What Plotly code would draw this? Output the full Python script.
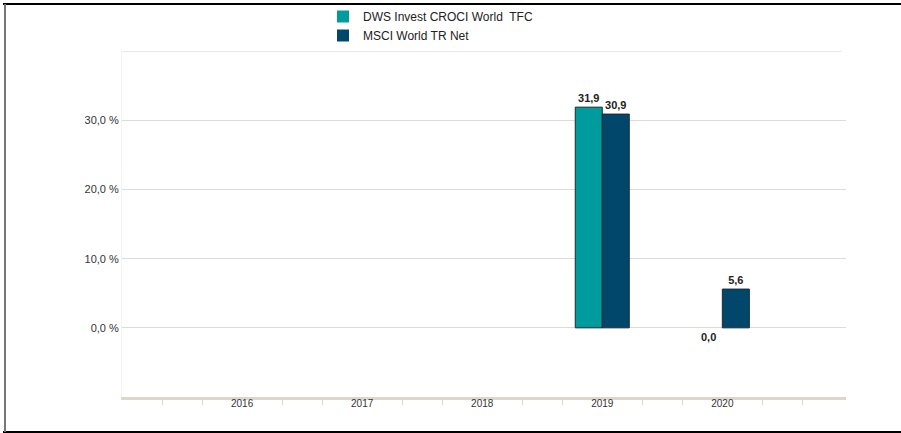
import plotly.graph_objects as go

years = [2016, 2017, 2018, 2019, 2020]
fund_name = "DWS Invest CROCI World  TFC"
bench_name = "MSCI World TR Net"
fund_vals = [None, None, None, 31.9, 0.0]
bench_vals = [None, None, None, 30.9, 5.6]
y_ticks = [0, 10, 20, 30, 40]
y_tick_text = ["0,0 %", "10,0 %", "20,0 %", "30,0 %", ""]

TEAL = "#009b9c"
NAVY = "#00476b"
EDGE = "#1c2a33"
GRID = "#dddbd5"
LABEL_FONT = dict(size=11, color="#222222", family="Liberation Sans", weight="bold")


def fmt(v):
    return "" if v is None else f"{v:.1f}".replace(".", ",")


def outside_text(vals):
    return [fmt(v) if (v is not None and v != 0) else "" for v in vals]


def edge_widths(vals):
    return [0 if (v is None or v == 0) else 1 for v in vals]


fig = go.Figure()
fig.add_trace(go.Bar(
    x=years, y=fund_vals, name=fund_name,
    marker=dict(color=TEAL, line=dict(color=EDGE, width=edge_widths(fund_vals))),
    text=outside_text(fund_vals), textposition="outside", cliponaxis=False,
    textfont=LABEL_FONT,
))
fig.add_trace(go.Bar(
    x=years, y=bench_vals, name=bench_name,
    marker=dict(color=NAVY, line=dict(color=EDGE, width=edge_widths(bench_vals))),
    text=outside_text(bench_vals), textposition="outside", cliponaxis=False,
    textfont=LABEL_FONT,
))

# zero-value labels sit below the baseline
group_w = 0.45
for i, vals in enumerate([fund_vals, bench_vals]):
    off = (i - 0.5) * group_w / 2
    for yr, v in zip(years, vals):
        if v == 0:
            fig.add_annotation(x=yr + off, y=v, text=fmt(v), showarrow=False,
                               yshift=-9, font=LABEL_FONT)

L, R, T, B = 122, 55, 51, 36
W, H = 901, 433
pw, ph = W - L - R, H - T - B


def px_x(px):
    return (px - L) / pw


def px_y(py):
    return (H - B - py) / ph


minor_vals = [2015 + k / 3 for k in range(0, 19) if k % 3 != 0]

fig.update_layout(
    width=W, height=H,
    margin=dict(l=L, r=R, t=T, b=B, autoexpand=False),
    paper_bgcolor="white", plot_bgcolor="white",
    barmode="group", bargap=0.55, bargroupgap=0,
    font=dict(family="Liberation Sans", size=11, color="#333333"),
    showlegend=True,
    legend=dict(orientation="v", xref="container", yref="container",
                x=323 / W, xanchor="left", y=1 - 2 / H, yanchor="top",
                font=dict(size=12, color="#222222"),
                itemwidth=30, tracegroupgap=0, bgcolor="rgba(0,0,0,0)"),
    xaxis=dict(range=[2015.0, 2021.03], tickvals=years,
               ticktext=[str(y) for y in years], ticks="",
               showgrid=False, zeroline=False,
               showline=True, linecolor="#dbd7cc", linewidth=3,
               ticklabelstandoff=-5,
               tickfont=dict(size=10, color="#333333"),
               minor=dict(tickvals=minor_vals, ticks="outside", ticklen=5,
                          tickcolor="#dbd7cc", tickwidth=1, showgrid=False)),
    yaxis=dict(range=[-10, 40.02], tickvals=y_ticks, ticktext=y_tick_text,
               showgrid=True, gridcolor=GRID, gridwidth=1,
               zeroline=False, showline=True, linecolor="#f3f3f3", linewidth=1,
               ticks="", ticklabelstandoff=0,
               tickfont=dict(size=11, color="#333333")),
    shapes=[
        # top gridline (edge of the value range)
        dict(type="line", xref="paper", yref="y", x0=0, x1=px_x(842),
             y0=y_ticks[-1], y1=y_ticks[-1], line=dict(color=GRID, width=1),
             layer="below"),
        dict(type="line", xref="paper", yref="paper", x0=px_x(3), x1=px_x(901),
             y0=px_y(4), y1=px_y(4), line=dict(color="black", width=2)),
        dict(type="line", xref="paper", yref="paper", x0=px_x(3), x1=px_x(901),
             y0=px_y(432), y1=px_y(432), line=dict(color="black", width=2)),
        dict(type="line", xref="paper", yref="paper", x0=px_x(5), x1=px_x(5),
             y0=px_y(4), y1=px_y(432), line=dict(color="#777777", width=2)),
    ],
)

fig.write_html("out.html", config={"displayModeBar": False},
               post_script="document.body.style.margin='0';")
